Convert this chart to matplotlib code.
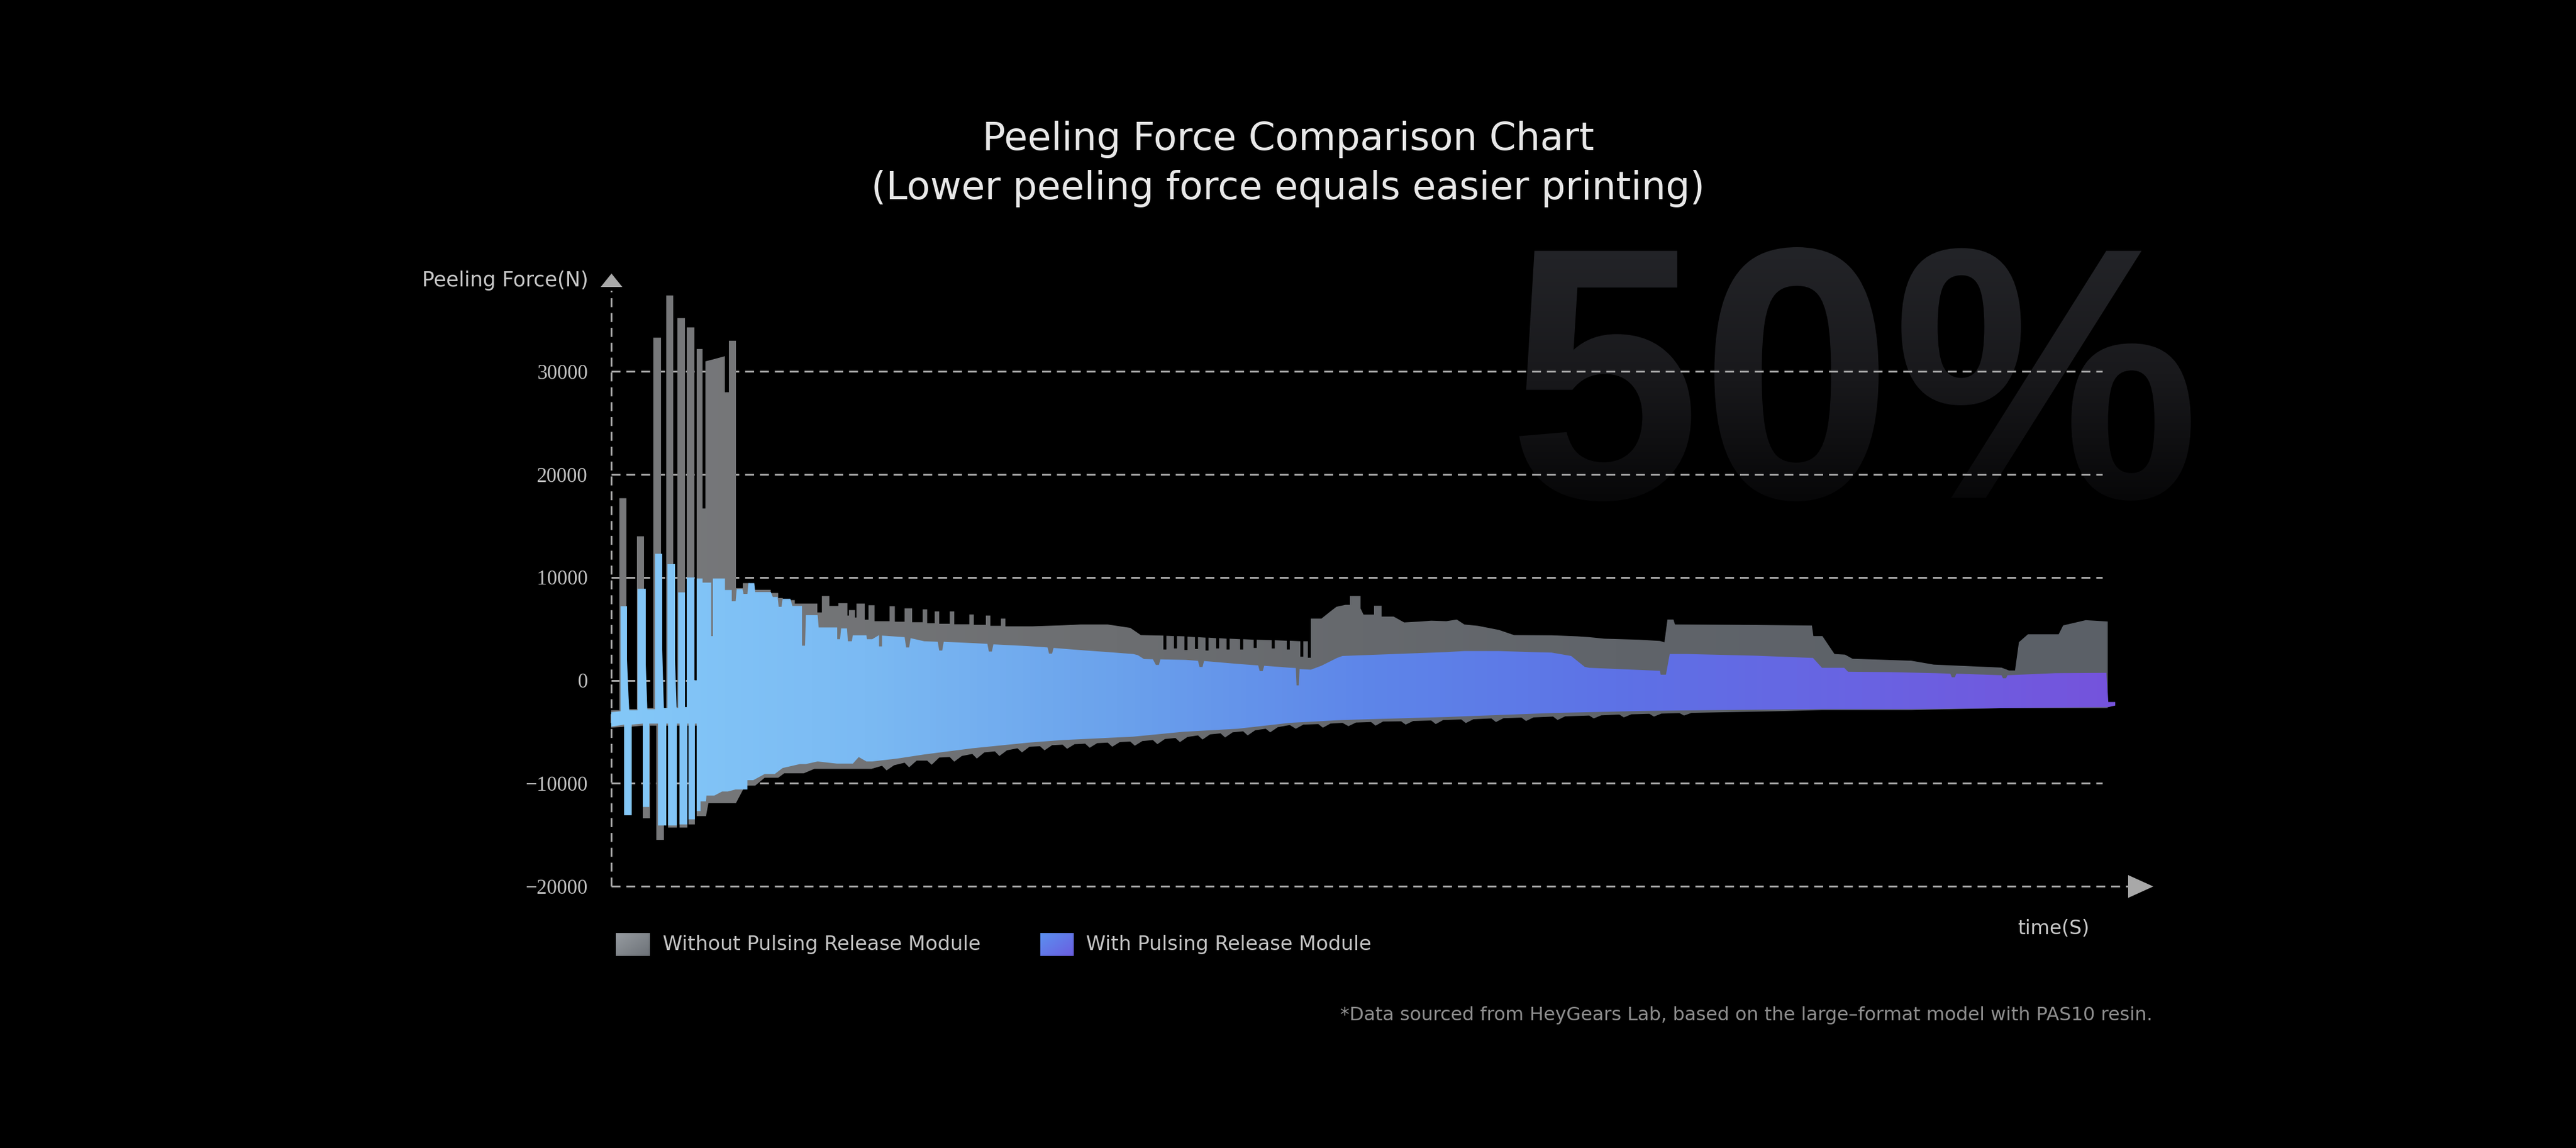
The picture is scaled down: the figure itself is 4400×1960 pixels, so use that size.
import numpy as np
import matplotlib
matplotlib.use('Agg')
import matplotlib.pyplot as plt
from matplotlib.colors import LinearSegmentedColormap
from matplotlib.textpath import TextPath
from matplotlib.patches import PathPatch
from matplotlib.font_manager import FontProperties
from matplotlib.transforms import Affine2D
from matplotlib.ticker import FuncFormatter

# ---- data (time in arbitrary units, force in N) ----
# envelope of the signal without the pulsing release module (upper edge)
gray_top = [
    (0, -2900), (5.4, -2900), (5.4, 17700), (10.1, 17700), (10.1, -2800),
    (17.1, -2800), (17.1, 14000), (21.8, 14000), (21.8, -2700),
    (28.0, -2700), (28.0, 33300), (33.1, 33300), (33.1, -2700),
    (36.6, -2700), (36.6, 37400), (41.2, 37400), (41.2, -2600),
    (44.0, -2600), (44.0, 35200), (49.0, 35200), (49.0, -2600),
    (50.2, -2600), (50.2, 34300), (55.3, 34300), (55.3, 0), (56.8, 0),
    (56.8, 32200), (60.7, 32200), (60.7, 16700), (62.6, 16700), (62.6, 31000),
    (68, 31200), (75.5, 31500), (75.5, 28000), (78.2, 28000), (78.2, 33000),
    (82.9, 33000), (82.9, 8960), (87.5, 8960), (87.5, 9450), (92, 9450),
    (92, 8800), (106, 8800), (106, 8490), (111, 8490), (111, 8000), (114, 8000),
    (114, 7800), (122, 7800), (122, 7460), (137, 7460), (137, 6600), (140, 6600),
    (140, 8200), (145, 8200), (145, 7230), (151, 7230), (151, 7500), (157, 7500),
    (157, 6300), (158, 6300), (158, 6830), (162, 6830), (162, 6100), (163, 6100),
    (163, 7460), (168.5, 7460), (168.5, 5900), (171, 5900), (171, 7300),
    (175, 7300), (175, 5750), (185, 5750), (185, 7200), (188.5, 7200),
    (188.5, 5700), (195, 5700), (195, 7000), (200, 7000), (200, 5650),
    (207, 5650), (207, 6900), (210, 6900), (210, 5550), (215, 5550), (215, 6700),
    (218, 6700), (218, 5500), (225, 5500), (225, 6700), (228, 6700), (228, 5450),
    (238, 5450), (238, 6400), (241, 6400), (241, 5400), (249, 5400), (249, 6300),
    (252, 6300), (252, 5300), (259, 5300), (259, 6000), (262, 6000), (262, 5250),
    (280, 5250), (300, 5350), (312, 5430), (330, 5430), (345, 5100), (352, 4400),
    (367, 4350), (367, 3000), (369, 3000), (369, 4330), (374, 4300), (374, 3100),
    (376, 3100), (376, 4300), (381, 4280), (381, 2950), (383, 2950), (383, 4250),
    (388, 4200), (388, 3050), (390, 3050), (390, 4200), (395, 4150), (395, 2900),
    (397, 2900), (397, 4150), (402, 4100), (402, 3100), (404, 3100), (404, 4100),
    (409, 4050), (409, 3000), (411, 3000), (411, 4050), (418, 4000), (418, 3000),
    (420, 3000), (420, 4000), (427, 3950), (427, 3150), (429, 3150), (429, 3950),
    (439, 3900), (439, 3100), (441, 3100), (441, 3900), (449, 3850), (449, 3000),
    (451, 3000), (451, 3850), (458, 3800), (458, 2300), (460, 2300), (460, 3800),
    (463, 3800), (463, 2200), (465, 2200), (465, 6000), (472, 6000), (478, 6700),
    (482, 7150), (488, 7340), (491, 7340), (491, 8200), (498, 8200), (498, 7000),
    (500, 6390), (507, 6390), (507, 7250), (512, 7250), (512, 6200), (520, 6200),
    (527, 5630), (538, 5720), (545, 5800), (555, 5750), (562, 5910), (567, 5430),
    (576, 5300), (590, 4900), (600, 4400), (625, 4380), (642, 4280), (650, 4200),
    (660, 4050), (683, 3950), (697, 3830), (700, 3700), (702, 5910), (706, 5910),
    (707, 5430), (750, 5400), (798, 5330), (799, 4300), (805, 4300), (813, 2560),
    (820, 2500), (825, 2100), (864, 1910), (879, 1530), (924, 1240), (929, 960),
    (933, 960), (935.6, 3710), (941.6, 4480), (962, 4480), (965, 5340),
    (980, 5850), (994.6, 5720),
]
# lower edge, same series
gray_bottom = [
    (0, -4600), (8.6, -4500), (8.6, -13100), (13.6, -13100), (13.6, -4500),
    (21.0, -4400), (21.0, -13400), (25.7, -13400), (25.7, -4400),
    (30.0, -4400), (30.0, -15500), (35.0, -15500), (35.0, -4400),
    (37.8, -4400), (37.8, -14300), (43.6, -14300), (43.6, -4400),
    (45.4, -4400), (45.4, -14300), (50.6, -14300), (50.6, -4400),
    (51.4, -4400), (51.4, -14000), (55.6, -14000), (55.6, -4400),
    (56.8, -4400), (56.8, -13190), (63, -13190), (64.6, -11930), (82.9, -11930),
    (89, -10230), (95.7, -10230), (102, -9460), (111, -9460), (115, -9030),
    (128, -9030), (135, -8600), (173, -8600), (180, -8300), (183, -8750),
    (188, -8250), (195, -8000), (198, -8450), (203, -7800), (210, -7800),
    (213, -8200), (218, -7500), (225, -7450), (228, -7900), (233, -7350),
    (240, -7150), (243, -7600), (248, -7000), (255, -6900), (258, -7350),
    (263, -6800), (270, -6600), (273, -7000), (278, -6450), (285, -6400),
    (288, -6800), (293, -6300), (300, -6250), (303, -6650), (308, -6200),
    (315, -6150), (318, -6550), (323, -6100), (330, -6050), (333, -6450),
    (338, -6000), (345, -5950), (348, -6350), (353, -5900), (360, -5800),
    (363, -6200), (368, -5700), (375, -5600), (378, -6000), (383, -5500),
    (390, -5350), (393, -5750), (398, -5250), (405, -5150), (408, -5550),
    (413, -5050), (420, -4950), (423, -5350), (428, -4850), (435, -4700),
    (438, -5050), (443, -4550), (451, -4340), (455, -4700), (460, -4300),
    (470, -4250), (473, -4600), (478, -4200), (486, -4130), (490, -4450),
    (495, -4100), (505, -4050), (508, -4400), (513, -4000), (525, -3980),
    (528, -4300), (533, -3950), (545, -3900), (548, -4250), (553, -3850),
    (565, -3800), (568, -4150), (573, -3780), (585, -3700), (588, -4050),
    (593, -3680), (605, -3620), (608, -3950), (613, -3600), (626, -3520),
    (629, -3850), (634, -3500), (650, -3420), (653, -3700), (658, -3400),
    (670, -3320), (673, -3600), (678, -3300), (690, -3250), (693, -3520),
    (698, -3230), (710, -3180), (713, -3420), (718, -3160), (745, -3080),
    (775, -3000), (804.7, -2890), (864, -2890), (923.7, -2700), (994.6, -2700),
]
# envelope of the signal with the pulsing release module (upper edge)
blue_top = [
    (0, -3100), (6.2, -3000), (6.2, 7200), (10.5, 7200), (10.5, 2000),
    (11.5, -1500), (12, -2900), (17.5, -2900), (17.5, 8900), (23.0, 8900),
    (23.0, 1500), (24, -2800), (29.2, -2800), (29.2, 12300), (33.9, 12300),
    (33.9, 3000), (35, -2700), (37.4, -2700), (37.4, 11300), (42.4, 11300),
    (42.4, 2000), (43.5, -2700), (44.5, -2700), (44.5, 8550), (49.0, 8550),
    (49.0, -2600), (50.2, -2600), (50.2, 10000), (55.3, 10000), (55.3, 0),
    (56.8, 0), (56.8, 9900), (60.7, 9900), (60.7, 9500), (66.5, 9500),
    (66.5, 4300), (67.6, 4300), (67.6, 9900), (75.6, 9900), (75.6, 8780),
    (80.1, 8780), (80.1, 7700), (82.7, 7700), (83.4, 8870), (87.3, 8870),
    (87.9, 8400), (90.5, 8400), (91.2, 9450), (95.1, 9450), (95.7, 8580),
    (106.1, 8580), (107.4, 8100), (110.6, 8100), (111.3, 7150), (113.2, 7150),
    (113.9, 7920), (119.1, 7920), (120.4, 7230), (126.8, 7230), (126.8, 3370),
    (128.8, 3370), (129.4, 6340), (137.2, 6340), (137.9, 5140), (150.2, 5140),
    (150.2, 4000), (152.1, 4000), (152.8, 5050), (156.7, 5050), (157.3, 3800),
    (159.9, 3800), (160.6, 4380), (169.6, 4380), (170, 4000), (173.5, 4000),
    (178, 4400), (178, 3300), (180, 3300), (180, 4350), (195, 4200), (196, 3200),
    (198, 3200), (199, 4100), (208, 3800), (217, 3750), (218, 2900), (220, 2900),
    (221, 3750), (242, 3610), (250, 3550), (251, 2800), (253, 2800), (254, 3500),
    (277, 3330), (290, 3200), (291, 2600), (293, 2600), (294, 3150), (312, 2940),
    (330, 2750), (347, 2560), (350, 2450), (354, 2080), (360, 2050), (362, 1500),
    (364, 1500), (365, 2040), (381.7, 1990), (390, 1900), (391, 1300),
    (393, 1300), (394, 1880), (416.4, 1600), (430, 1450), (431, 900), (433, 900),
    (434, 1420), (451, 1230), (455, 1200), (455.5, -490), (457, -490),
    (457.5, 1100), (465, 1040), (472, 1420), (482.4, 2180), (486, 2370),
    (520.6, 2560), (555.4, 2750), (567, 2850), (590, 2850), (611, 2750),
    (625, 2700), (638, 2370), (647, 1310), (650, 1220), (697, 930), (697.5, 550),
    (701, 550), (703.5, 2560), (715, 2560), (760, 2400), (798.7, 2180),
    (804.7, 1220), (819.5, 1220), (822, 840), (850, 800), (880, 700), (890, 650),
    (891, 300), (893, 300), (894, 650), (924, 500), (925, 200), (927, 200),
    (928, 500), (960, 700), (993.7, 730), (995, -2100), (999.6, -2100),
]
# lower edge, same series
blue_bottom = [
    (0, -4500), (8.6, -4300), (8.6, -13100), (13.6, -13100), (13.6, -4300),
    (21.0, -4200), (21.0, -12300), (25.3, -12300), (25.3, -4200),
    (31.1, -4200), (31.1, -14100), (36.6, -14100), (36.6, -4200),
    (37.8, -4200), (37.8, -14100), (43.6, -14100), (43.6, -4200),
    (45.4, -4200), (45.4, -14000), (50.6, -14000), (50.6, -4200),
    (51.4, -4200), (51.4, -13500), (55.6, -13500), (55.6, -4200),
    (56.8, -4200), (56.8, -12700), (59.4, -12700), (59.4, -11760), (63, -11760),
    (63.3, -11200), (68.5, -11200), (73.7, -10800), (77.5, -10800),
    (82.7, -10600), (90.5, -10600), (90.5, -9700), (94.4, -9700), (102, -9100),
    (108.7, -9100), (113.9, -8520), (125.5, -8130), (129.4, -8130),
    (137.2, -7880), (150, -8090), (160.6, -8090), (164.5, -7450), (169.6, -7880),
    (173.5, -7880), (190, -7600), (208, -7200), (240, -6600), (277.4, -6050),
    (300, -5800), (347, -5470), (380, -5000), (416.4, -4700), (451, -4130),
    (486, -3850), (555, -3560), (626, -3170), (685.6, -2970), (745, -2870),
    (804.7, -2800), (864, -2800), (923.7, -2700), (995, -2600), (999.6, -2450),
]

y_ticks = [-20000, -10000, 0, 10000, 20000, 30000]
grid_vals = [-10000, 0, 10000, 20000, 30000]
legend_labels = ['Without Pulsing Release Module', 'With Pulsing Release Module']

title = 'Peeling Force Comparison Chart\n(Lower peeling force equals easier printing)'
note = '*Data sourced from HeyGears Lab, based on the large\u2013format model with PAS10 resin.'

# ---- figure ----
W, H = 4400, 1960
fig = plt.figure(figsize=(W / 100, H / 100), dpi=100, facecolor='black')
SANS = ['DejaVu Sans']

# background layer in pixel coordinates (watermark + arrow heads)
bg = fig.add_axes([0, 0, 1, 1])
bg.set_xlim(0, W)
bg.set_ylim(H, 0)
bg.axis('off')

tp = TextPath((0, 0), '50%', size=100,
              prop=FontProperties(family='Liberation Sans', weight='bold'))
ext = tp.get_extents()
x0, x1, ytop, ybot = 2595, 3742, 422, 856
trans = (Affine2D().translate(-ext.x0, -ext.y0)
         .scale((x1 - x0) / ext.width, -(ybot - ytop) / ext.height)
         .translate(x0, ybot))
wm_path = trans.transform_path(tp)
wm_patch = PathPatch(wm_path, facecolor='none', edgecolor='none')
bg.add_patch(wm_patch)
wm_cmap = LinearSegmentedColormap.from_list('wm', ['#232428', '#19191c', '#070708'])
wm_img = bg.imshow(np.linspace(0, 1, 256).reshape(-1, 1), cmap=wm_cmap,
                   extent=[x0, x1, ybot, ytop], aspect='auto', origin='upper')
wm_img.set_clip_path(wm_patch)
bg.set_xlim(0, W)
bg.set_ylim(H, 0)

axis_col = '#a8a8a8'
bg.fill([1026, 1063, 1044.5], [490, 490, 467], color=axis_col, lw=0)
bg.fill([3635, 3635, 3678], [1494, 1533, 1513.5], color=axis_col, lw=0)

# main chart axes
T_MAX = 1030
ax = fig.add_axes([1044 / W, (H - 1513) / H, T_MAX * 2.57 / W, 6 * 175.7 / H])
ax.set_facecolor('none')
for s in ax.spines.values():
    s.set_visible(False)

dash = (0, (5.0, 3.3))
lw = 2.2
for g in grid_vals:
    ax.axhline(g, xmin=0, xmax=991 / T_MAX, color=axis_col, lw=lw, ls=dash, zorder=1)
ax.plot([0, 1008], [y_ticks[0], y_ticks[0]], color=axis_col, lw=lw, ls=dash,
        clip_on=False, zorder=1)
ax.plot([0, 0], [y_ticks[0], 37900], color=axis_col, lw=lw, ls=dash,
        clip_on=False, zorder=1)


def envelope(top, bottom):
    top = np.array(top)
    bot = np.array(bottom)[::-1]
    return np.concatenate([top[:, 0], bot[:, 0]]), np.concatenate([top[:, 1], bot[:, 1]])


gray_cmap = LinearSegmentedColormap.from_list('g', ['#78797b', '#6c6e71', '#60646a', '#5b6067'])
blue_cmap = LinearSegmentedColormap.from_list(
    'b', ['#84c8f8', '#7bbaf3', '#6ba2ec', '#5e86e9', '#5d72e6', '#6963e2', '#7553dc'])

grad = np.linspace(0, 1, 512).reshape(1, -1)
for top, bottom, cmap, z in [(gray_top, gray_bottom, gray_cmap, 2),
                             (blue_top, blue_bottom, blue_cmap, 3)]:
    xs, ys = envelope(top, bottom)
    poly = ax.fill(xs, ys, facecolor='none', edgecolor='none', zorder=z)[0]
    im = ax.imshow(grad, extent=[0, 1000, -20000, 40000], aspect='auto',
                   cmap=cmap, origin='lower', interpolation='bilinear', zorder=z)
    im.set_clip_path(poly)

ax.set_xlim(0, T_MAX)
ax.set_ylim(-20000, 40000)
ax.set_xticks([])
ax.set_yticks(y_ticks)
ax.yaxis.set_major_formatter(FuncFormatter(lambda v, p: f'{int(v)}'.replace('-', '\u2212')))
ax.tick_params(axis='y', length=0, pad=29, labelsize=25, labelcolor='#c2c2c2')
for lab in ax.get_yticklabels():
    lab.set_fontfamily('Liberation Serif')


def fx(x):
    return x / W


def fy(y):
    return 1 - y / H


# texts
lines = title.split('\n')
fig.text(fx(2200), fy(256), lines[0], ha='center', va='baseline', fontsize=47,
         color='#e8e8e8', family=SANS)
fig.text(fx(2200), fy(340), lines[1], ha='center', va='baseline', fontsize=47,
         color='#e8e8e8', family=SANS)
fig.text(fx(1005), fy(489), 'Peeling Force(N)', ha='right', va='baseline',
         fontsize=25, color='#c8c8c8', family=SANS)
fig.text(fx(3507), fy(1595), 'time(S)', ha='center', va='baseline',
         fontsize=24, color='#c8c8c8', family=SANS)
fig.text(fx(3677), fy(1742), note, ha='right', va='baseline',
         fontsize=23, color='#8e8e8e', family=SANS)

# legend
leg_cols = [('#979ca1', '#6c7177'), ('#5b90f0', '#6b5ee0')]
leg_x = [(1052, 1109, 1132), (1777, 1833, 1855)]
for (xa, xb, xt), (c0, c1), lab in zip(leg_x, leg_cols, legend_labels):
    lax = fig.add_axes([fx(xa), fy(1632), (xb - xa) / W, (1632 - 1593) / H])
    lax.axis('off')
    cm = LinearSegmentedColormap.from_list('l', [c0, c1])
    gx, gy = np.meshgrid(np.linspace(0, 1, 50), np.linspace(0, 1, 50))
    lax.imshow((gx + gy) / 2, cmap=cm, aspect='auto', origin='upper')
    fig.text(fx(xt), fy(1622), lab, ha='left', va='baseline', fontsize=24.5,
             color='#c4c4c4', family=SANS)

fig.savefig('out.png', dpi=100, facecolor='black')
